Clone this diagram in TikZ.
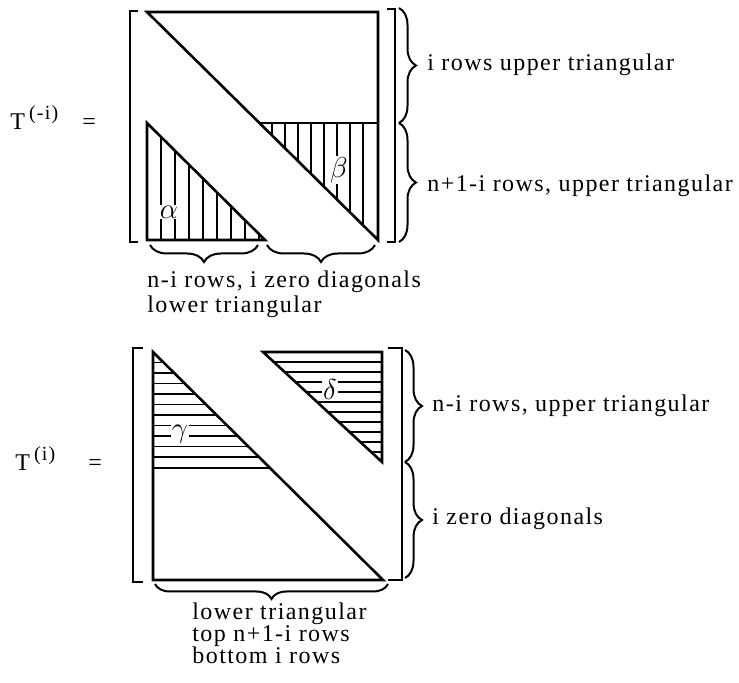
\documentclass[tikz,border=0pt]{standalone}
\usepackage{fontspec}
\setmainfont{Liberation Serif}[LetterSpace=6]
\usetikzlibrary{decorations.pathreplacing}

\tikzset{
    edge/.style={line width=1.3pt},
    hatchline/.style={line width=0.9pt},
    bracket/.style={line width=1pt},
    brc/.style={decorate, decoration={brace, amplitude=8.5pt}, line width=1pt},
    lbl/.style={anchor=base west, inner sep=0pt, font=\fontsize{12}{14}\selectfont},
    greek/.style={inner sep=0.4pt, fill=white, font=\fontsize{14}{16}\selectfont}
}

\begin{document}
\begin{tikzpicture}[x=0.5pt, y=-0.5pt, line join=miter]
    \useasboundingbox (0,0) rectangle (739,683);

    % T^(-i): corners
    \coordinate (ua) at (147,12);
    \coordinate (ub) at (378,12);
    \coordinate (uc) at (378,240);
    \coordinate (um) at (259.5,123);
    \coordinate (un) at (378,123);
    \coordinate (up) at (147,123);
    \coordinate (uq) at (147,240);
    \coordinate (ur) at (265,240);

    \begin{scope}
        \clip (up) -- (uq) -- (ur) -- cycle;
        \foreach \x in {161,175,...,259} \draw[hatchline] (\x,115) -- (\x,245);
    \end{scope}
    \begin{scope}
        \clip (um) -- (un) -- (uc) -- cycle;
        \foreach \x in {272,285,...,372} \draw[hatchline] (\x,115) -- (\x,245);
    \end{scope}
    \draw[edge] (ua) -- (ub) -- (uc) -- cycle;
    \draw[edge] (um) -- (un);
    \draw[edge] (up) -- (uq) -- (ur) -- cycle;

    \node[greek] (alpha) at (169,212) {$\alpha$};
    \node[greek] (beta) at (339,170) {$\beta$};

    \draw[bracket] (138,11) -- (130,11) -- (130,242) -- (138,242);
    \draw[bracket] (387,9) -- (395,9) -- (395,242) -- (387,242);

    \draw[brc] (399,8) -- (399,123);
    \draw[brc] (399,123) -- (399,242);
    \draw[brc] (258,245) -- (150,245);
    \draw[brc] (375,245) -- (267,245);

    \node[lbl] (uplbla) at (427,71) {i rows upper triangular};
    \node[lbl] (uplblb) at (427,192) {n+1-i rows, upper triangular};
    \node[lbl] (uplblc) at (147,288) {n-i rows, i zero diagonals};
    \node[lbl] (uplbld) at (147,313) {lower triangular};

    \node[lbl] (tneg) at (10,130) {T\,\raisebox{5pt}{\fontsize{10}{10}\selectfont(-i)}};
    \node[lbl] (eqneg) at (82,130) {=};

    % T^(i): corners
    \coordinate (la) at (153,352);
    \coordinate (lb) at (153,580);
    \coordinate (lc) at (383,580);
    \coordinate (lm) at (153,468);
    \coordinate (ln) at (269.5,468);
    \coordinate (lp) at (263,352);
    \coordinate (lq) at (382,352);
    \coordinate (lr) at (382,462);

    \begin{scope}
        \clip (la) -- (lm) -- (ln) -- cycle;
        \foreach \y in {362.5,373,...,460} \draw[hatchline] (150,\y) -- (275,\y);
    \end{scope}
    \begin{scope}
        \clip (lp) -- (lq) -- (lr) -- cycle;
        \foreach \y in {362,372,...,458} \draw[hatchline] (260,\y) -- (385,\y);
    \end{scope}
    \draw[edge] (la) -- (lb) -- (lc) -- cycle;
    \draw[edge] (lm) -- (ln);
    \draw[edge] (lp) -- (lq) -- (lr) -- cycle;

    \node[greek] (gamma) at (180,434) {$\gamma$};
    \node[greek] (delta) at (330,390) {$\delta$};

    \draw[bracket] (143,348) -- (133,348) -- (133,582) -- (143,582);
    \draw[bracket] (388,348) -- (402,348) -- (402,580) -- (388,580);

    \draw[brc] (405,350) -- (405,462);
    \draw[brc] (405,462) -- (405,578);
    \draw[brc, decoration={amplitude=7.5pt}] (388,584) -- (155,584);

    \node[lbl] (lolbla) at (432,412) {n-i rows, upper triangular};
    \node[lbl] (lolblb) at (432,525) {i zero diagonals};
    \node[lbl] (lolblc) at (192,620) {lower triangular};
    \node[lbl] (lolbld) at (192,642) {top n+1-i rows};
    \node[lbl] (lolble) at (192,664) {bottom i rows};

    \node[lbl] (tpos) at (15,471) {T\,\raisebox{5pt}{\fontsize{10}{10}\selectfont(i)}};
    \node[lbl] (eqpos) at (88,471) {=};
\end{tikzpicture}
\end{document}
